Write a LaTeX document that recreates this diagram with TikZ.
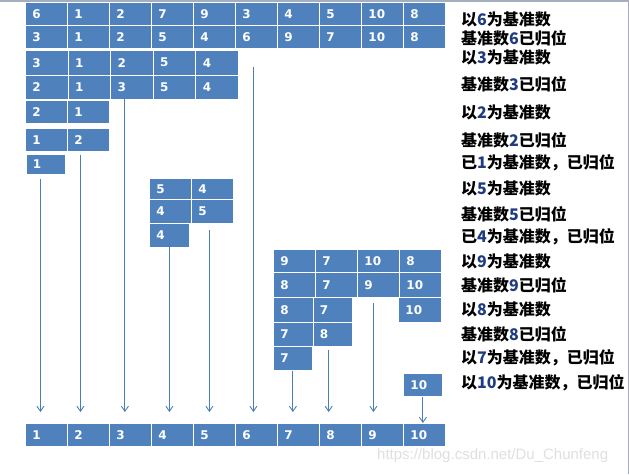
\documentclass[tikz,border=0pt]{standalone}
\usepackage{fontspec}
\usetikzlibrary{arrows.meta}
\newfontfamily\cjk{Noto Sans CJK SC}
\newfontfamily\cellfont{DejaVu Sans}
\newfontfamily\wmfont{Liberation Sans}
\definecolor{cellblue}{HTML}{4F81BD}
\definecolor{lineblue}{HTML}{4A7EBB}
\definecolor{numblue}{HTML}{203C80}
\definecolor{framegray}{HTML}{A5AEBF}
\newcommand\hl[1]{\textcolor{numblue}{#1}}
\newcommand\cellrow[6]{%
    \pgfmathsetmacro\tw{#4-14}
    \foreach \v [count=\i] in {#6}
        \node[cell, minimum width=#4pt, minimum height=#5pt, text width=\tw pt]
            (#1\i) at ({#2+#4*(\i-1)},#3) {\v};
}
\begin{document}
\begin{tikzpicture}[x=1pt, y=-1pt,
        cell/.style = {shape=rectangle, draw=white, fill=cellblue, line width=0.8pt,
                        anchor=north west, inner xsep=7pt, inner ysep=0pt, align=left,
                        text=white, font=\cellfont\bfseries\fontsize{12}{12}\selectfont},
        lbl/.style = {anchor=west, inner sep=0pt, font=\cjk\bfseries\fontsize{16}{18}\selectfont},
        arr/.style = {draw=lineblue, line width=0.9pt, -{Straight Barb[length=5pt,width=7pt]}}]
    \useasboundingbox (0,0) rectangle (629,474);
    \draw[framegray, line width=1.5pt] (0,0.75) -- (628.25,0.75) -- (628.25,474);

    \cellrow{a}{25}{2}{42}{23}{6,1,2,7,9,3,4,5,10,8}
    \cellrow{b}{25}{25}{42}{23}{3,1,2,5,4,6,9,7,10,8}
    \cellrow{c}{25}{50}{42.6}{24.5}{3,1,2,5,4}
    \cellrow{d}{25}{75}{42.6}{23.5}{2,1,3,5,4}
    \cellrow{e}{25}{100}{42}{23}{2,1}
    \cellrow{f}{25}{128}{42}{23}{1,2}
    \cellrow{g}{25.5}{154}{39}{19.5}{1}
    \cellrow{h}{149}{178}{42}{21}{5,4}
    \cellrow{i}{149}{199}{42}{24}{4,5}
    \cellrow{j}{149}{223}{40}{24}{4}
    \cellrow{k}{273}{249}{42}{23}{9,7,10,8}
    \cellrow{l}{273}{272}{42}{25}{8,7,9,10}
    \cellrow{m}{273}{297}{39.5}{25}{8,7}
    \cellrow{n}{273}{322}{39.5}{24}{7,8}
    \cellrow{o}{273}{346}{39}{24}{7}
    \cellrow{p}{403}{373}{39}{23}{10}
    \cellrow{q}{25}{423}{42}{23}{1,2,3,4,5,6,7,8,9,10}
    \node[cell, minimum width=43pt, minimum height=25pt, text width=29pt] (m3) at (398,297) {10};

    \coordinate (tips) at (0,412);
    \draw[arr] ([xshift=-5pt,yshift=-5pt]g1.south) -- ([xshift=-5pt]g1.south |- tips);
    \draw[arr] ([xshift=-8pt,yshift=-3pt]f2.south) -- ([xshift=-8pt]f2.south |- tips);
    \draw[arr] ([xshift=-7pt]d3.south) -- ([xshift=-7pt]d3.south |- tips);
    \draw[arr] ([yshift=5pt]j1.south) -- (j1.south |- tips);
    \draw[arr] ([xshift=-3pt,yshift=-6pt]i2.south) -- ([xshift=-3pt]i2.south |- tips);
    \draw[arr] ([xshift=-3pt,yshift=-18pt]b6.south) -- ([xshift=-3pt]b6.south |- tips);
    \draw[arr] (o1.south) -- (o1.south |- tips);
    \draw[arr] ([xshift=-4pt,yshift=-3pt]n2.south) -- ([xshift=-4pt]n2.south |- tips);
    \draw[arr] ([xshift=-5pt,yshift=-5pt]l3.south) -- ([xshift=-5pt]l3.south |- tips);
    \draw[arr] (p1.south) -- (p1.south |- q10.north);

    \foreach \y/\t [count=\k] in {19/以\hl{6}为基准数, 38/基准数\hl{6}已归位,
            57.5/以\hl{3}为基准数, 84/基准数\hl{3}已归位, 112/以\hl{2}为基准数,
            140/基准数\hl{2}已归位, 163/已\hl{1}为基准数，已归位, 188/以\hl{5}为基准数,
            214/基准数\hl{5}已归位, 237/已\hl{4}为基准数，已归位, 261/以\hl{9}为基准数,
            285/基准数\hl{9}已归位, 309/以\hl{8}为基准数, 334/基准数\hl{8}已归位,
            357.5/以\hl{7}为基准数，已归位, 382.5/以\hl{10}为基准数，已归位}
        \node[lbl] (t\k) at (461,\y) {\t};

    \node[anchor=west, inner sep=0pt, text=gray!25, font=\wmfont\fontsize{15}{15}\selectfont]
        (mark) at (377,456) {https://blog.csdn.net/Du\_Chunfeng};
\end{tikzpicture}
\end{document}
